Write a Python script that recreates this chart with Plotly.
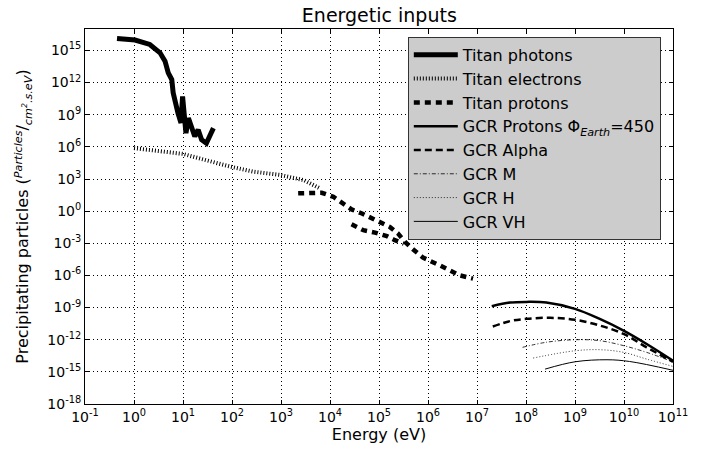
import plotly.graph_objects as go

# ---------------- data ----------------
photon_E = [0.45, 1.05, 2.1, 3.4, 4.3, 5.0, 5.9, 6.3, 7.9, 9.1, 9.8, 10.5, 11.5, 12.9, 14.5, 17.4, 20.4, 24, 30, 35.5, 41.7]
photon_F = [1.3e16, 9.3e15, 3.6e15, 6.0e14, 1.0e14, 8e12, 1.9e12, 1.1e11, 1.4e9, 1.7e8, 5e10, 7e8, 1.9e7, 4.9e8, 8e7, 9.3e6, 4e7, 4.6e6, 2.2e6, 9.3e6, 5.6e7]

electron_E = [1.0, 2.45, 10, 13.8, 91, 270, 950, 2900, 5400, 6300]
electron_F = [7.6e5, 4.6e5, 2.2e5, 1.45e5, 1.45e4, 4.9e3, 2.4e3, 7.9e2, 1.9e2, 1.3e2]

proton_E1 = [2240, 4570, 6760, 1.17e4, 2.75e4, 4.5e4, 1.05e5, 1.66e5, 2.45e5, 3.4e5, 5.0e5, 7.9e5, 1.74e6, 4.5e6, 8.3e6]
proton_F1 = [46, 52, 52, 22, 1.45, 0.6, 0.1, 3.4e-2, 8.1e-3, 1.35e-3, 2.6e-4, 4.6e-5, 8.7e-6, 1.0e-6, 5.0e-7]
proton_E2 = [2.75e4, 4.8e4, 8.3e4, 1.45e5, 2.1e5, 3.2e5]
proton_F2 = [6.0e-2, 1.66e-2, 1.0e-2, 4.6e-3, 1.95e-3, 9.3e-4]

gcrp_E = [2.0e7, 4.7e7, 1.02e8, 2.6e8, 1e9, 3.2e9, 9.8e9, 2.9e10, 1e11]
gcrp_F = [1.35e-9, 2.95e-9, 3.4e-9, 2.95e-9, 7.6e-10, 8.7e-11, 7.1e-12, 4.0e-13, 1.1e-14]

alpha_E = [2.1e7, 4.7e7, 1.02e8, 3.1e8, 1e9, 3.2e9, 9.8e9, 2.9e10, 1e11]
alpha_F = [1.7e-11, 5.4e-11, 8.9e-11, 1.1e-10, 7.2e-11, 2.1e-11, 3.5e-12, 1.95e-13, 8.7e-15]

m_E = [8.5e7, 2.6e8, 1e9, 3.2e9, 9.8e9, 2.9e10, 1e11]
m_F = [1.95e-13, 5.8e-13, 1.0e-12, 8.1e-13, 2.8e-13, 6.6e-14, 8.7e-15]

h_E = [1.4e8, 1e9, 3.2e9, 9.8e9, 2.9e10, 1e11]
h_F = [1.95e-14, 9.3e-14, 1.17e-13, 6.6e-14, 1.55e-14, 3.2e-15]

vh_E = [2.45e8, 1e9, 4.5e9, 1.3e10, 1e11]
vh_F = [1.8e-15, 8.7e-15, 1.35e-14, 9.3e-15, 1.4e-15]

x_exps = list(range(-1, 12))
y_exps = list(range(-18, 16, 3))
x_ticklabels = ["10<sup>%d</sup>" % e for e in x_exps]
y_ticklabels = ["10<sup>%d</sup>" % e for e in y_exps]

# ---------------- figure ----------------
fig = go.Figure()
K = "black"

fig.add_trace(go.Scatter(x=photon_E, y=photon_F, mode="lines", name="Titan photons",
                         legendgroup="a", line=dict(color=K, width=5)))
fig.add_trace(go.Scatter(x=electron_E, y=electron_F, mode="lines", name="Titan electrons",
                         legendgroup="b", line=dict(color=K, width=4, dash="1px,2px")))
fig.add_trace(go.Scatter(x=proton_E1 + [None] + proton_E2, y=proton_F1 + [None] + proton_F2,
                         mode="lines", name="Titan protons", connectgaps=False,
                         legendgroup="c", line=dict(color=K, width=4.5, dash="6px,5px")))
fig.add_trace(go.Scatter(x=gcrp_E, y=gcrp_F, mode="lines", line_shape="spline",
                         name="GCR Protons Φ<sub><i>Earth</i></sub>=450",
                         legendgroup="d", line=dict(color=K, width=2.5)))
fig.add_trace(go.Scatter(x=alpha_E, y=alpha_F, mode="lines", line_shape="spline", name="GCR Alpha",
                         legendgroup="e", line=dict(color=K, width=2.5, dash="7px,4px")))
fig.add_trace(go.Scatter(x=m_E, y=m_F, mode="lines", line_shape="spline", name="GCR M",
                         legendgroup="f", line=dict(color=K, width=0.8, dash="4px,2px,1px,2px")))
fig.add_trace(go.Scatter(x=h_E, y=h_F, mode="lines", line_shape="spline", name="GCR H",
                         legendgroup="g", line=dict(color=K, width=0.8, dash="1px,2px")))
fig.add_trace(go.Scatter(x=vh_E, y=vh_F, mode="lines", line_shape="spline", name="GCR VH",
                         legendgroup="h", line=dict(color=K, width=1)))

axis_common = dict(
    showline=True, linecolor=K, linewidth=1, mirror="ticks",
    ticks="inside", ticklen=4, tickcolor=K,
    showgrid=True, gridcolor=K, gridwidth=1, griddash="1px,3px",
    zeroline=False, tickfont=dict(size=14, color=K), automargin=False,
)

fig.update_xaxes(type="log", range=[-1, 11],
                 tickvals=[10.0 ** e for e in x_exps], ticktext=x_ticklabels,
                 title=dict(text="Energy (eV)", font=dict(size=16, color=K), standoff=5),
                 **axis_common)
fig.update_yaxes(type="log", range=[-18, 17],
                 tickvals=[10.0 ** e for e in y_exps], ticktext=y_ticklabels,
                 title=dict(text="Precipitating particles (<sup><i>Particles</i></sup>/<sub><i>cm<sup>2</sup>.s.eV</i></sub>)",
                            font=dict(size=16, color=K), standoff=14),
                 **axis_common)

fig.update_layout(
    width=707, height=450,
    margin=dict(l=85, r=34, t=29, b=46),
    paper_bgcolor="white", plot_bgcolor="white",
    font=dict(family="DejaVu Sans", color=K),
    title=dict(text="Energetic inputs", x=0.5365, xanchor="center", y=0.966, yanchor="middle",
               font=dict(size=19, color=K)),
    showlegend=True,
    legend=dict(x=0.549, y=0.979, xanchor="left", yanchor="top",
                bgcolor="#cccccc", bordercolor="#333333", borderwidth=1,
                font=dict(size=16, color=K), tracegroupgap=0, itemwidth=44),
)

fig.write_html("out.html", config={"displayModeBar": False},
               post_script="document.body.style.margin='0';")
